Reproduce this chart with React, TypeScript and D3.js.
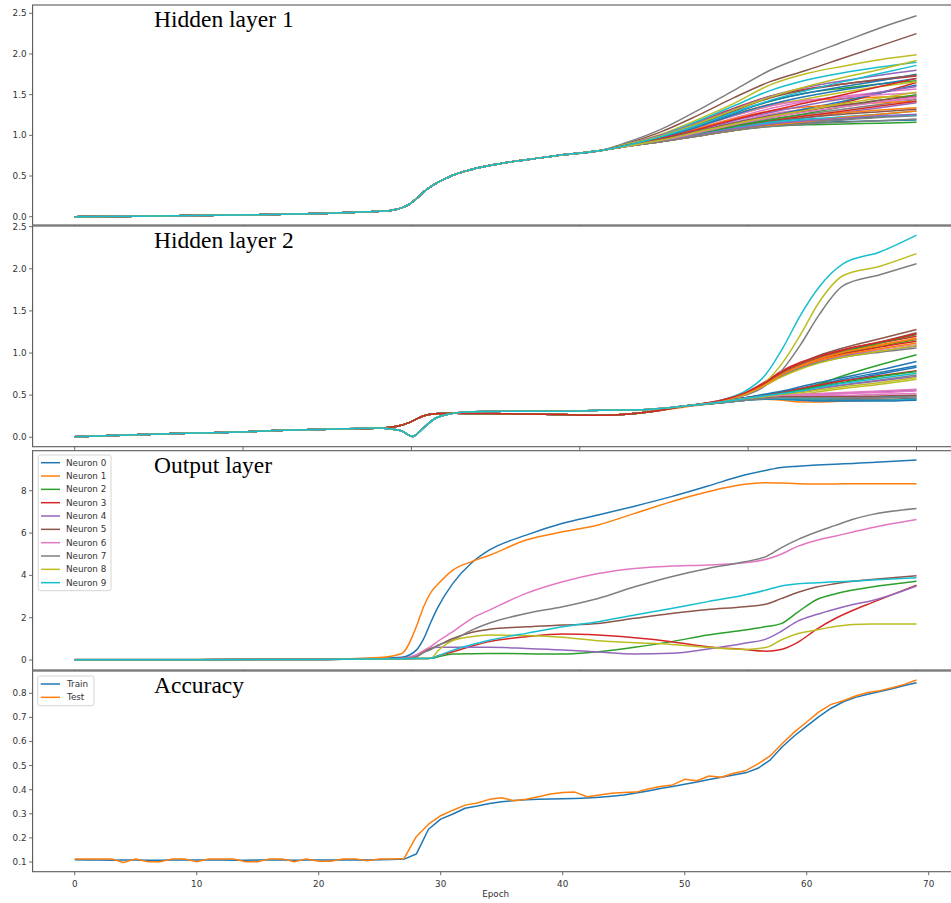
import React from 'react';
import * as d3 from 'd3';

const W = 951;
const H = 903;
const COLORS = ['#1f77b4', '#ff7f0e', '#2ca02c', '#d62728', '#9467bd', '#8c564b', '#e377c2', '#7f7f7f', '#bcbd22', '#17becf'];

// ---------- Hidden layer 1 ----------
const h1TrunkEpochs = [0, 5, 10, 15, 20, 24, 26, 27, 27.5, 28, 28.5, 29, 30, 31, 32, 34, 36, 38, 40, 43];
const h1TrunkValues = [0.0, 0.005, 0.015, 0.025, 0.04, 0.06, 0.08, 0.12, 0.16, 0.22, 0.29, 0.35, 0.44, 0.51, 0.56, 0.63, 0.68, 0.72, 0.76, 0.81];
const h1TailEpochs = [45, 48, 51, 54, 57, 60, 63, 66, 69];
const h1Tails = [
  [0.86, 0.92, 0.99, 1.06, 1.12, 1.15, 1.17, 1.18, 1.19],
  [0.87, 0.97, 1.10, 1.25, 1.38, 1.43, 1.45, 1.47, 1.48],
  [0.87, 0.98, 1.12, 1.28, 1.42, 1.52, 1.58, 1.63, 1.67],
  [0.88, 1.0, 1.16, 1.33, 1.48, 1.57, 1.63, 1.68, 1.73],
  [0.86, 0.93, 1.01, 1.09, 1.16, 1.22, 1.28, 1.34, 1.40],
  [0.89, 1.04, 1.24, 1.46, 1.66, 1.80, 1.95, 2.10, 2.25],
  [0.86, 0.95, 1.05, 1.16, 1.26, 1.32, 1.37, 1.41, 1.45],
  [0.90, 1.07, 1.30, 1.55, 1.80, 1.98, 2.15, 2.32, 2.47],
  [0.88, 1.01, 1.19, 1.39, 1.62, 1.76, 1.85, 1.93, 1.99],
  [0.88, 1.0, 1.17, 1.36, 1.55, 1.68, 1.77, 1.84, 1.90],
  [0.87, 0.97, 1.11, 1.27, 1.42, 1.52, 1.60, 1.67, 1.75],
  [0.86, 0.93, 1.02, 1.11, 1.19, 1.24, 1.28, 1.31, 1.34],
  [0.86, 0.92, 0.99, 1.06, 1.11, 1.13, 1.14, 1.15, 1.16],
  [0.86, 0.94, 1.04, 1.14, 1.22, 1.30, 1.40, 1.52, 1.65],
  [0.88, 1.0, 1.15, 1.32, 1.48, 1.59, 1.67, 1.74, 1.80],
  [0.87, 0.98, 1.13, 1.30, 1.46, 1.56, 1.63, 1.69, 1.74],
  [0.87, 0.96, 1.08, 1.21, 1.33, 1.42, 1.48, 1.53, 1.57],
  [0.86, 0.93, 1.02, 1.12, 1.20, 1.26, 1.32, 1.38, 1.44],
  [0.87, 0.97, 1.10, 1.24, 1.36, 1.45, 1.53, 1.60, 1.66],
  [0.86, 0.93, 1.01, 1.09, 1.15, 1.19, 1.23, 1.26, 1.30],
  [0.86, 0.94, 1.04, 1.15, 1.24, 1.33, 1.42, 1.52, 1.62],
  [0.87, 0.96, 1.08, 1.20, 1.30, 1.35, 1.38, 1.40, 1.42],
  [0.86, 0.92, 1.0, 1.07, 1.13, 1.17, 1.20, 1.23, 1.25],
  [0.86, 0.93, 1.02, 1.11, 1.18, 1.24, 1.30, 1.36, 1.42],
  [0.87, 0.95, 1.06, 1.18, 1.28, 1.37, 1.45, 1.53, 1.60],
  [0.86, 0.93, 1.01, 1.10, 1.17, 1.22, 1.26, 1.29, 1.32],
  [0.87, 0.97, 1.10, 1.24, 1.36, 1.43, 1.47, 1.50, 1.52],
  [0.86, 0.92, 0.99, 1.06, 1.12, 1.16, 1.19, 1.22, 1.24],
  [0.88, 0.99, 1.14, 1.31, 1.47, 1.60, 1.71, 1.81, 1.92],
  [0.86, 0.93, 1.01, 1.09, 1.16, 1.20, 1.22, 1.24, 1.25],
  [0.87, 0.97, 1.10, 1.25, 1.38, 1.48, 1.56, 1.63, 1.70],
  [0.86, 0.92, 0.99, 1.06, 1.12, 1.17, 1.22, 1.26, 1.30],
  [0.86, 0.93, 1.02, 1.11, 1.19, 1.27, 1.35, 1.43, 1.50],
  [0.87, 0.96, 1.07, 1.19, 1.30, 1.40, 1.50, 1.60, 1.70],
  [0.86, 0.92, 1.0, 1.08, 1.14, 1.18, 1.21, 1.24, 1.26],
  [0.87, 0.95, 1.05, 1.15, 1.24, 1.31, 1.37, 1.43, 1.48],
  [0.86, 0.93, 1.03, 1.13, 1.22, 1.29, 1.35, 1.41, 1.47],
  [0.86, 0.92, 0.99, 1.06, 1.11, 1.14, 1.16, 1.18, 1.20],
  [0.86, 0.94, 1.04, 1.14, 1.23, 1.31, 1.39, 1.46, 1.53],
  [0.87, 0.98, 1.12, 1.28, 1.43, 1.55, 1.66, 1.76, 1.86],
];

// ---------- Hidden layer 2 ----------
const h2TrunkAEpochs = [0, 5, 10, 15, 18.5, 22, 25, 26.7, 27.5, 28.5, 29.5, 31, 35, 40, 43, 47];
const h2TrunkAValues = [0.005, 0.03, 0.05, 0.07, 0.09, 0.1, 0.11, 0.14, 0.18, 0.25, 0.28, 0.285, 0.28, 0.27, 0.26, 0.3];
const h2TrunkBEpochs = [0, 5, 10, 15, 18.5, 22, 25, 26.7, 27.7, 28.5, 29.5, 30.5, 32, 35, 40, 43, 47];
const h2TrunkBValues = [0.005, 0.03, 0.05, 0.07, 0.09, 0.1, 0.11, 0.08, 0.01, 0.1, 0.22, 0.27, 0.3, 0.31, 0.31, 0.32, 0.33];
const h2TailEpochs = [50, 53, 55, 56.5, 58, 59.5, 61, 63, 66, 69];
const h2Groups = ['A', 'A', 'A', 'A', 'A', 'A', 'A', 'B', 'B', 'B', 'A', 'A', 'A', 'A', 'A', 'A', 'A', 'A', 'A', 'B', 'A', 'A', 'A', 'A', 'A', 'A', 'A', 'A', 'A', 'B', 'A', 'A', 'A', 'A', 'B', 'B', 'B', 'B', 'B', 'B'];
const h2Tails = [
  [0.37, 0.42, 0.47, 0.5, 0.54, 0.58, 0.63, 0.69, 0.77, 0.85],
  [0.36, 0.41, 0.44, 0.45, 0.44, 0.42, 0.42, 0.43, 0.44, 0.46],
  [0.37, 0.43, 0.51, 0.62, 0.75, 0.85, 0.93, 1.0, 1.08, 1.16],
  [0.37, 0.44, 0.53, 0.65, 0.79, 0.89, 0.96, 1.04, 1.12, 1.2],
  [0.37, 0.42, 0.46, 0.48, 0.49, 0.5, 0.51, 0.52, 0.54, 0.56],
  [0.37, 0.43, 0.52, 0.63, 0.77, 0.88, 0.97, 1.06, 1.17, 1.28],
  [0.37, 0.42, 0.46, 0.48, 0.49, 0.5, 0.51, 0.52, 0.53, 0.55],
  [0.37, 0.43, 0.5, 0.6, 0.8, 1.1, 1.45, 1.8, 1.93, 2.06],
  [0.37, 0.43, 0.52, 0.64, 0.88, 1.22, 1.6, 1.92, 2.03, 2.18],
  [0.37, 0.44, 0.55, 0.72, 1.05, 1.45, 1.78, 2.06, 2.2, 2.4],
  [0.37, 0.42, 0.47, 0.5, 0.53, 0.57, 0.61, 0.67, 0.75, 0.83],
  [0.37, 0.43, 0.52, 0.63, 0.76, 0.86, 0.94, 1.02, 1.1, 1.17],
  [0.37, 0.42, 0.46, 0.48, 0.5, 0.55, 0.63, 0.73, 0.86, 0.98],
  [0.37, 0.43, 0.51, 0.61, 0.74, 0.84, 0.92, 0.99, 1.07, 1.14],
  [0.37, 0.41, 0.44, 0.46, 0.46, 0.46, 0.46, 0.46, 0.47, 0.48],
  [0.37, 0.41, 0.44, 0.46, 0.46, 0.45, 0.45, 0.45, 0.45, 0.46],
  [0.37, 0.43, 0.51, 0.61, 0.73, 0.83, 0.9, 0.97, 1.04, 1.1],
  [0.37, 0.42, 0.46, 0.49, 0.52, 0.55, 0.58, 0.62, 0.68, 0.74],
  [0.37, 0.42, 0.45, 0.47, 0.49, 0.51, 0.54, 0.58, 0.63, 0.69],
  [0.37, 0.41, 0.44, 0.45, 0.45, 0.44, 0.44, 0.44, 0.44, 0.45],
  [0.37, 0.41, 0.44, 0.45, 0.45, 0.44, 0.43, 0.43, 0.43, 0.44],
  [0.37, 0.43, 0.51, 0.62, 0.75, 0.84, 0.91, 0.98, 1.05, 1.12],
  [0.37, 0.43, 0.52, 0.63, 0.76, 0.86, 0.94, 1.02, 1.12, 1.22],
  [0.37, 0.42, 0.47, 0.5, 0.54, 0.58, 0.62, 0.67, 0.73, 0.79],
  [0.37, 0.43, 0.51, 0.61, 0.73, 0.82, 0.89, 0.96, 1.02, 1.08],
  [0.37, 0.43, 0.52, 0.63, 0.76, 0.86, 0.94, 1.03, 1.13, 1.24],
  [0.37, 0.42, 0.46, 0.48, 0.49, 0.49, 0.5, 0.5, 0.51, 0.52],
  [0.37, 0.43, 0.51, 0.61, 0.73, 0.82, 0.89, 0.95, 1.01, 1.06],
  [0.37, 0.43, 0.51, 0.61, 0.72, 0.81, 0.88, 0.95, 1.02, 1.09],
  [0.37, 0.41, 0.44, 0.46, 0.46, 0.46, 0.46, 0.47, 0.48, 0.49],
  [0.37, 0.42, 0.47, 0.51, 0.55, 0.6, 0.65, 0.71, 0.8, 0.9],
  [0.37, 0.43, 0.52, 0.62, 0.75, 0.85, 0.93, 1.01, 1.09, 1.18],
  [0.37, 0.42, 0.46, 0.49, 0.52, 0.56, 0.6, 0.65, 0.72, 0.78],
  [0.37, 0.44, 0.53, 0.64, 0.78, 0.88, 0.96, 1.04, 1.13, 1.23],
  [0.37, 0.42, 0.46, 0.49, 0.51, 0.54, 0.58, 0.62, 0.67, 0.72],
  [0.37, 0.42, 0.45, 0.47, 0.48, 0.48, 0.48, 0.48, 0.49, 0.5],
  [0.37, 0.42, 0.46, 0.48, 0.5, 0.51, 0.52, 0.53, 0.55, 0.57],
  [0.37, 0.41, 0.44, 0.46, 0.47, 0.47, 0.47, 0.47, 0.47, 0.48],
  [0.37, 0.42, 0.46, 0.48, 0.51, 0.53, 0.56, 0.6, 0.65, 0.71],
  [0.37, 0.42, 0.46, 0.49, 0.52, 0.55, 0.59, 0.64, 0.7, 0.76],
];

// ---------- Output layer ----------
const outNames = ['Neuron 0', 'Neuron 1', 'Neuron 2', 'Neuron 3', 'Neuron 4', 'Neuron 5', 'Neuron 6', 'Neuron 7', 'Neuron 8', 'Neuron 9'];
const outEpochs = [0, 10, 20, 25, 26.8, 28, 28.6, 29.2, 29.8, 31, 32.5, 34, 37, 40, 42.9, 45.9, 48.9, 51.9, 54.9, 56.7, 57.9, 59.3, 60.8, 62.3, 63.8, 65.3, 69];
const outValues = [
  [0.03, 0.03, 0.04, 0.08, 0.13, 0.47, 1.0, 1.8, 2.52, 3.62, 4.57, 5.2, 5.9, 6.46, 6.85, 7.27, 7.72, 8.22, 8.74, 8.97, 9.1, 9.16, 9.21, 9.25, 9.29, 9.33, 9.45],
  [0.03, 0.03, 0.04, 0.12, 0.31, 1.57, 2.52, 3.2, 3.6, 4.25, 4.64, 4.95, 5.67, 6.06, 6.38, 6.93, 7.48, 7.95, 8.3, 8.38, 8.36, 8.33, 8.32, 8.32, 8.33, 8.33, 8.33],
  [0.02, 0.02, 0.03, 0.05, 0.06, 0.07, 0.07, 0.08, 0.15, 0.28, 0.3, 0.31, 0.3, 0.28, 0.39, 0.6, 0.87, 1.18, 1.42, 1.58, 1.72, 2.28, 2.85, 3.12, 3.31, 3.45, 3.72],
  [0.02, 0.02, 0.03, 0.05, 0.06, 0.07, 0.07, 0.08, 0.2, 0.39, 0.65, 0.87, 1.1, 1.23, 1.18, 1.05, 0.87, 0.63, 0.5, 0.42, 0.5, 0.85, 1.45, 1.95, 2.35, 2.7, 3.54],
  [0.02, 0.02, 0.03, 0.05, 0.07, 0.24, 0.4, 0.55, 0.6, 0.6, 0.6, 0.6, 0.55, 0.48, 0.38, 0.29, 0.32, 0.52, 0.79, 1.0, 1.35, 1.85, 2.15, 2.4, 2.62, 2.8, 3.5],
  [0.02, 0.02, 0.03, 0.05, 0.07, 0.16, 0.4, 0.55, 0.7, 1.02, 1.3, 1.45, 1.57, 1.65, 1.73, 1.97, 2.2, 2.39, 2.52, 2.65, 2.9, 3.2, 3.45, 3.6, 3.72, 3.8, 3.98],
  [0.02, 0.02, 0.03, 0.05, 0.07, 0.24, 0.45, 0.65, 0.9, 1.34, 1.95, 2.36, 3.15, 3.7, 4.09, 4.33, 4.44, 4.49, 4.6, 4.76, 5.0, 5.38, 5.65, 5.85, 6.05, 6.25, 6.64],
  [0.02, 0.02, 0.03, 0.05, 0.07, 0.16, 0.35, 0.5, 0.7, 0.94, 1.4, 1.75, 2.2, 2.52, 2.91, 3.46, 3.94, 4.33, 4.64, 4.9, 5.3, 5.7, 6.05, 6.35, 6.65, 6.87, 7.16],
  [0.02, 0.02, 0.03, 0.05, 0.06, 0.07, 0.07, 0.08, 0.45, 0.92, 1.1, 1.18, 1.16, 1.08, 0.91, 0.82, 0.74, 0.6, 0.5, 0.6, 0.95, 1.25, 1.42, 1.58, 1.68, 1.7, 1.7],
  [0.02, 0.02, 0.03, 0.05, 0.06, 0.07, 0.07, 0.08, 0.2, 0.47, 0.72, 0.94, 1.26, 1.57, 1.81, 2.13, 2.44, 2.76, 3.07, 3.31, 3.5, 3.6, 3.65, 3.7, 3.73, 3.78, 3.89],
];

// ---------- Accuracy ----------
const accEpochs = d3.range(70);
const accTrain = [
  0.109, 0.108, 0.108, 0.107, 0.108, 0.108, 0.107, 0.107, 0.108, 0.108,
  0.108, 0.108, 0.108, 0.107, 0.107, 0.108, 0.108, 0.108, 0.107, 0.108,
  0.108, 0.108, 0.108, 0.109, 0.108, 0.109, 0.110, 0.112, 0.133, 0.236,
  0.278, 0.299, 0.323, 0.332, 0.343, 0.350, 0.355, 0.358, 0.360, 0.361,
  0.362, 0.364, 0.366, 0.369, 0.373, 0.378, 0.386, 0.395, 0.405, 0.413,
  0.423, 0.432, 0.442, 0.452, 0.461, 0.470, 0.489, 0.523, 0.578, 0.624,
  0.664, 0.703, 0.738, 0.765, 0.783, 0.796, 0.807, 0.819, 0.832, 0.844,
];
const accTest = [
  0.113, 0.113, 0.113, 0.113, 0.098, 0.113, 0.101, 0.101, 0.113, 0.113,
  0.101, 0.113, 0.113, 0.113, 0.101, 0.101, 0.113, 0.113, 0.101, 0.113,
  0.103, 0.103, 0.113, 0.113, 0.105, 0.113, 0.113, 0.115, 0.205, 0.257,
  0.292, 0.315, 0.336, 0.345, 0.36, 0.367, 0.354, 0.36, 0.371, 0.382,
  0.388, 0.39, 0.371, 0.378, 0.385, 0.388, 0.39, 0.403, 0.413, 0.42,
  0.443, 0.437, 0.457, 0.452, 0.468, 0.479, 0.507, 0.54, 0.592, 0.64,
  0.681, 0.723, 0.754, 0.769, 0.789, 0.803, 0.811, 0.823, 0.837, 0.855,
];
const accNames = ['Train', 'Test'];

// ---------- ticks & titles ----------
const titles = ['Hidden layer 1', 'Hidden layer 2', 'Output layer', 'Accuracy'];
const hiddenYTicks = [0, 0.5, 1.0, 1.5, 2.0, 2.5];
const outYTicks = [0, 2, 4, 6, 8];
const accYTicks = [0.1, 0.2, 0.3, 0.4, 0.5, 0.6, 0.7, 0.8];
const epochTicks = [0, 10, 20, 30, 40, 50, 60, 70];
const stepTicks = [0, 13.8, 27.6, 41.4, 55.2, 69];

// ---------- layout ----------
const XL = 32.6;
const XR = 958.6;
const panels = [
  { top: 5, bottom: 225, domain: [-0.102, 2.602], ticks: hiddenYTicks, fmt: d3.format('.1f') },
  { top: 226, bottom: 446.7, domain: [-0.112, 2.508], ticks: hiddenYTicks, fmt: d3.format('.1f') },
  { top: 450.7, bottom: 670, domain: [-0.47, 9.89], ticks: outYTicks, fmt: d3.format('d') },
  { top: 671, bottom: 871.7, domain: [0.0598, 0.8925], ticks: accYTicks, fmt: d3.format('.1f') },
];
const FONT = "'DejaVu Sans', sans-serif";
const SPINE = '#5a5a5a';
const TXT = '#333';

const x = d3.scaleLinear().domain([-3.45, 72.45]).range([XL, XR]);

function zip(ep: number[], vals: number[]): [number, number][] {
  return ep.map((e, i) => [e, vals[i]]);
}

export default function App() {
  const ys = panels.map((p) => d3.scaleLinear().domain(p.domain).range([p.bottom, p.top]));
  const mkLine = (y: d3.ScaleLinear<number, number>, curve: d3.CurveFactory) =>
    d3.line<[number, number]>().x((d) => x(d[0])).y((d) => y(d[1])).curve(curve);

  const l1 = mkLine(ys[0], d3.curveMonotoneX);
  const l2 = mkLine(ys[1], d3.curveMonotoneX);
  const l3 = mkLine(ys[2], d3.curveMonotoneX);
  const l4 = mkLine(ys[3], d3.curveLinear);

  const h1Series = h1Tails.map((t) => zip(h1TrunkEpochs.concat(h1TailEpochs), h1TrunkValues.concat(t)));
  const h2Series = h2Tails.map((t, i) =>
    h2Groups[i] === 'A'
      ? zip(h2TrunkAEpochs.concat(h2TailEpochs), h2TrunkAValues.concat(t))
      : zip(h2TrunkBEpochs.concat(h2TailEpochs), h2TrunkBValues.concat(t))
  );
  const outSeries = outValues.map((v) => zip(outEpochs, v));
  const accSeries = [accTrain, accTest].map((v) => zip(accEpochs, v));

  const seriesByPanel = [
    { s: h1Series, gen: l1 },
    { s: h2Series, gen: l2 },
    { s: outSeries, gen: l3 },
    { s: accSeries, gen: l4 },
  ];

  return (
    <svg width={W} height={H} style={{ position: 'absolute', left: 0, top: 0, background: '#fff' }}>
      <rect x={0} y={0} width={W} height={H} fill="#fff" />
      <defs>
        {panels.map((p, i) => (
          <clipPath id={`clip${i}`} key={i}>
            <rect x={XL} y={p.top} width={XR - XL} height={p.bottom - p.top} />
          </clipPath>
        ))}
      </defs>
      {panels.map((p, i) => {
        const y = ys[i];
        const { s, gen } = seriesByPanel[i];
        const lastPanel = i === 3;
        return (
          <g key={i}>
            <rect x={XL} y={p.top} width={XR - XL} height={p.bottom - p.top} fill="#fff" />
            <g clipPath={`url(#clip${i})`}>
              {s.map((d, j) => (
                <path key={j} d={gen(d) || ''} fill="none" stroke={COLORS[j % 10]} strokeWidth={1.5} strokeLinejoin="round" />
              ))}
            </g>
            <rect x={XL} y={p.top} width={XR - XL} height={p.bottom - p.top} fill="none" stroke={SPINE} strokeWidth={1.1} />
            {p.ticks.map((t) => (
              <g key={t}>
                <line x1={XL - 3.5} x2={XL} y1={y(t)} y2={y(t)} stroke={SPINE} strokeWidth={0.9} />
                <text x={XL - 6} y={y(t)} textAnchor="end" dominantBaseline="central" fontFamily={FONT} fontSize={8.8} fill={TXT}>
                  {p.fmt(t)}
                </text>
              </g>
            ))}
            {(lastPanel ? epochTicks : stepTicks).map((t) => (
              <line key={t} x1={x(t)} x2={x(t)} y1={p.bottom} y2={p.bottom + 3.5} stroke={SPINE} strokeWidth={0.9} />
            ))}
            {lastPanel &&
              epochTicks.map((t) => (
                <text key={t} x={x(t)} y={886.7} textAnchor="middle" fontFamily={FONT} fontSize={8.8} fill={TXT}>
                  {t}
                </text>
              ))}
            <text x={154} y={p.top + 22} fontFamily="'Liberation Serif', 'Times New Roman', serif" fontSize={23.5} fill="#000">
              {titles[i]}
            </text>
          </g>
        );
      })}
      <g>
        <rect x={38.3} y={455} width={72.7} height={135.7} rx={2} fill="#fff" fillOpacity={0.8} stroke="#d0d0d0" strokeWidth={0.9} />
        {outNames.map((n, i) => {
          const cy = 462.7 + i * 13.33;
          return (
            <g key={n}>
              <line x1={41} x2={60} y1={cy} y2={cy} stroke={COLORS[i]} strokeWidth={1.5} />
              <text x={66} y={cy} dominantBaseline="central" fontFamily={FONT} fontSize={8.8} fill={TXT}>
                {n}
              </text>
            </g>
          );
        })}
      </g>
      <g>
        <rect x={37.7} y={676} width={56.3} height={29.7} rx={2} fill="#fff" fillOpacity={0.8} stroke="#d0d0d0" strokeWidth={0.9} />
        {accNames.map((n, i) => {
          const cy = 684 + i * 13.33;
          return (
            <g key={n}>
              <line x1={40.7} x2={60} y1={cy} y2={cy} stroke={COLORS[i]} strokeWidth={1.5} />
              <text x={67} y={cy} dominantBaseline="central" fontFamily={FONT} fontSize={8.8} fill={TXT}>
                {n}
              </text>
            </g>
          );
        })}
      </g>
      <text x={x(34.5)} y={897} textAnchor="middle" fontFamily={FONT} fontSize={8.8} fill={TXT}>
        Epoch
      </text>
    </svg>
  );
}
